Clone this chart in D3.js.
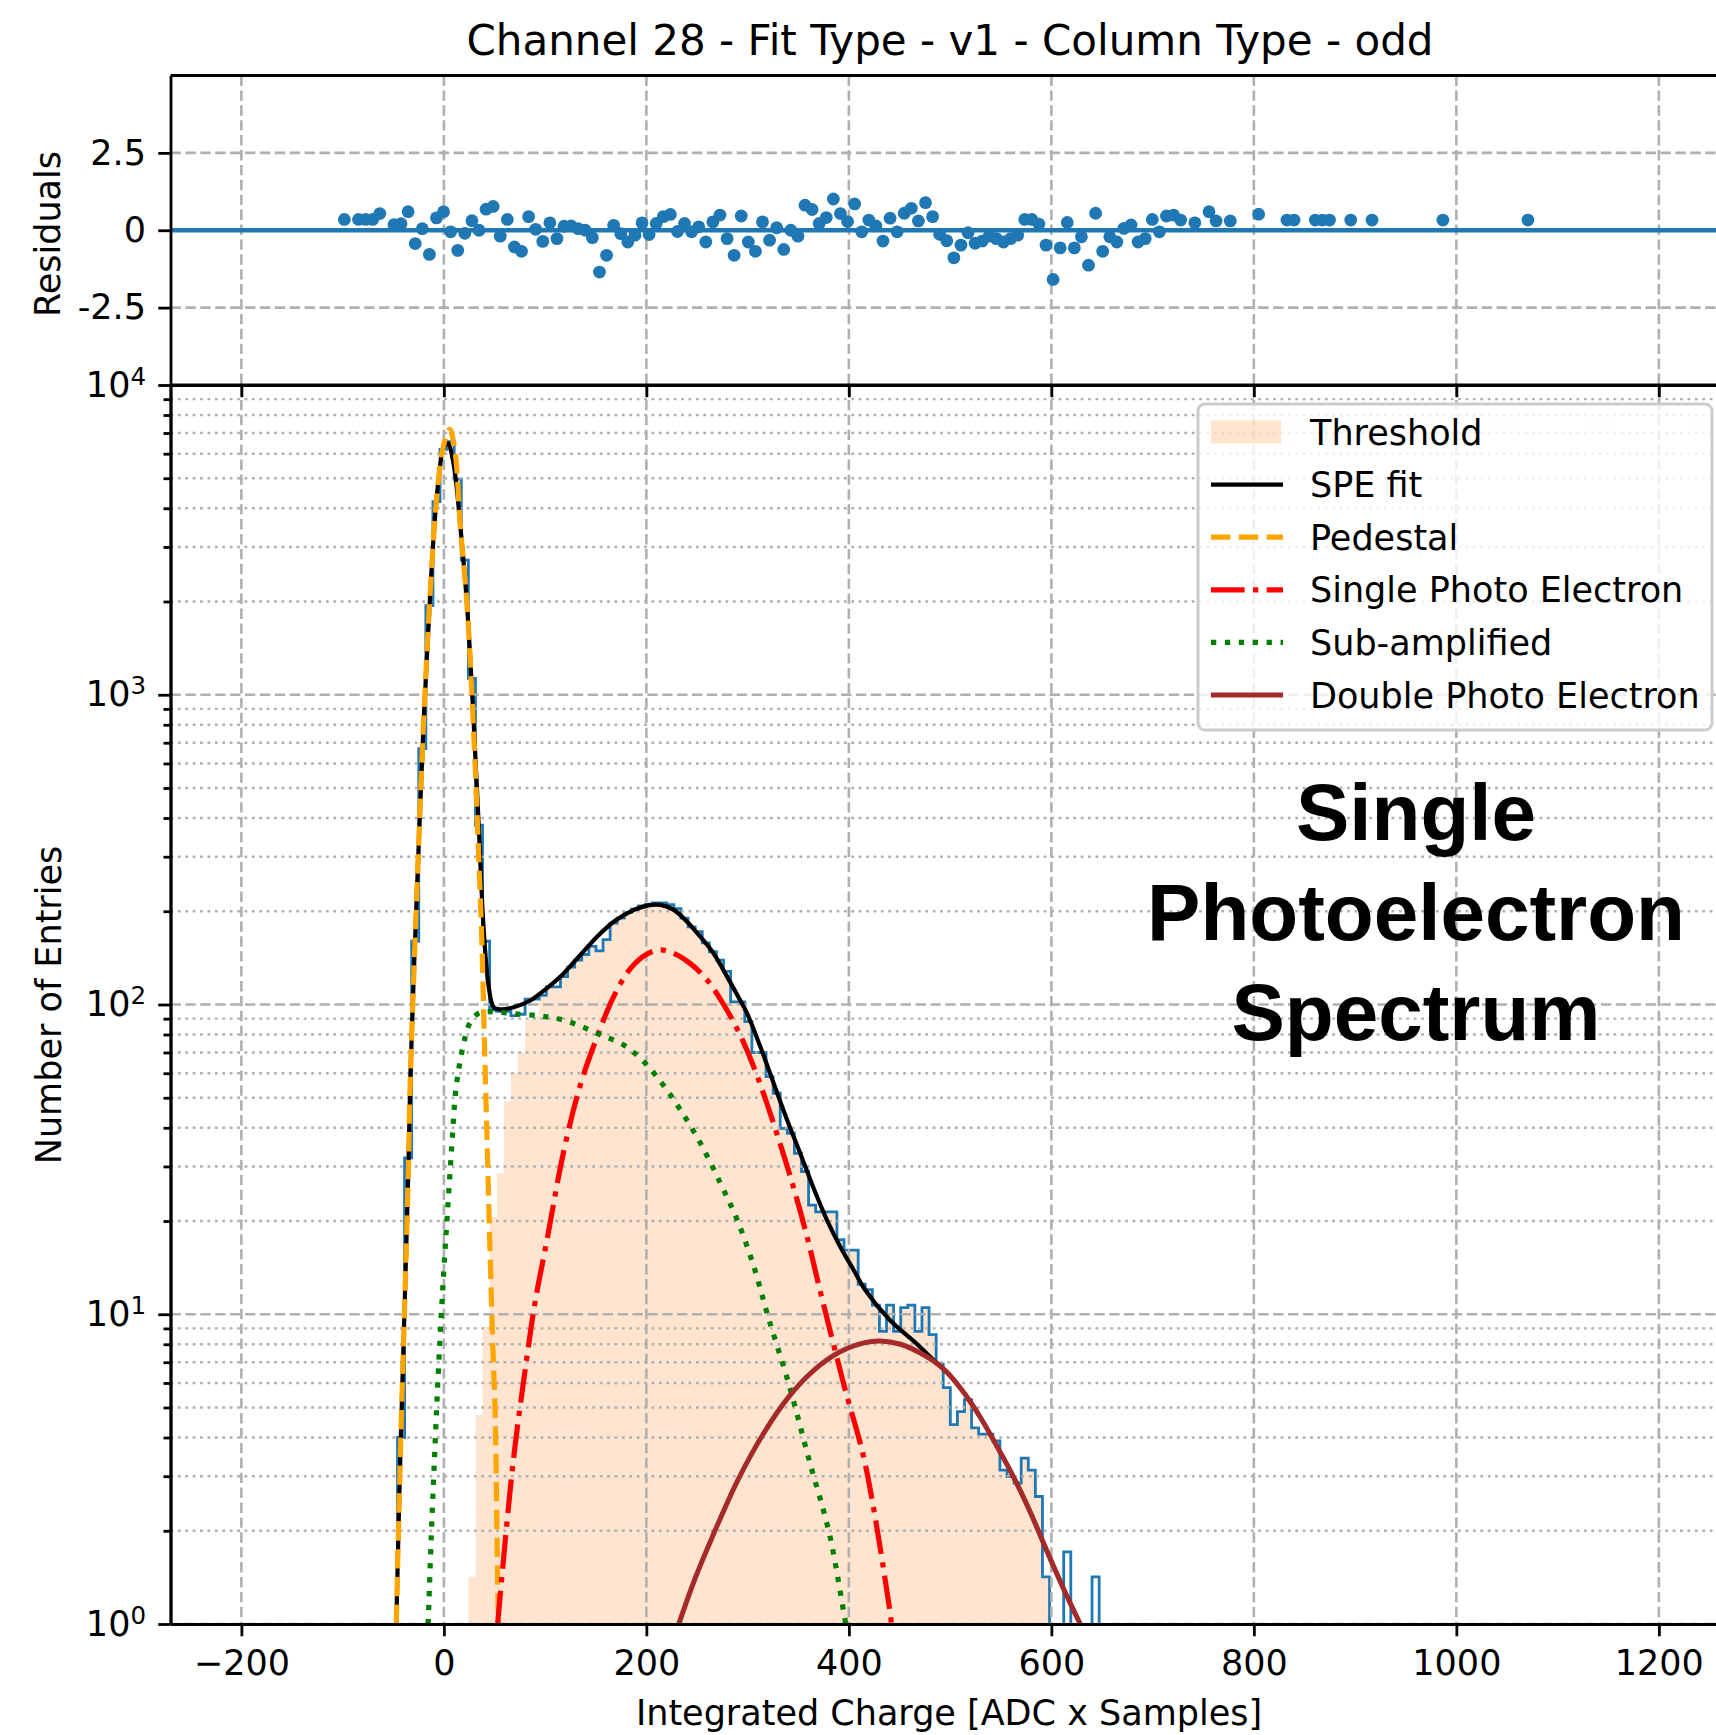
<!DOCTYPE html>
<html>
<head>
<meta charset="utf-8">
<script src="https://cdn.jsdelivr.net/npm/d3@7"></script>
<style>
  html, body { margin: 0; padding: 0; background: #fff; }
  svg { display: block; font-family: 'DejaVu Sans', sans-serif; }
</style>
</head>
<body>
<svg id="chart" width="1716" height="1735"></svg>
<script>
const xTicks = [-200, 0, 200, 400, 600, 800, 1000, 1200];
const residualTicks = [-2.5, 0, 2.5];
const residualTickLabels = ['-2.5', '0', '2.5'];
const countTicks = [1, 10, 100, 1000, 10000];
const countTickExponents = ['0', '1', '2', '3', '4'];
const countMinorTicks = [2, 3, 4, 5, 6, 7, 8, 9, 20, 30, 40, 50, 60, 70, 80, 90,
  200, 300, 400, 500, 600, 700, 800, 900, 2000, 3000, 4000, 5000, 6000, 7000, 8000, 9000];

// histogram: bin 0 starts at binStart, all bins binWidth wide
const binStart = -101.8;
const binWidth = 7;
const histCounts = [
  0, 0, 0, 0, 0, 0, 0, 0, 4, 32,
  160, 670, 1940, 4200, 6200, 6560, 4970, 2720, 1130, 379,
  160, 96, 95, 95, 92, 93, 104, 104, 107, 114,
  114, 123, 132, 139, 145, 154, 149, 162, 183, 190,
  198, 203, 208, 211, 213, 213, 210, 204, 190, 178,
  172, 158, 148, 139, 128, 102, 102, 88, 70, 70,
  58.5, 51.7, 39.8, 38.4, 33.1, 28.9, 22.5, 21.4, 21.4, 21.4,
  17.4, 16.1, 16.1, 12.5, 12.0, 10.7, 8.8, 10.7, 8.8, 10.5,
  10.7, 8.8, 10.5, 8.6, 6.9, 5.8, 4.4, 4.85, 5.3, 4.3,
  4.1, 4.1, 3.9, 3.14, 2.99, 2.85, 3.43, 3.14, 2.58, 1.42,
  0, 0, 1.71, 0, 0, 0, 1.42
];

const thresholdStartBin = 18;
const thresholdCounts = [
  1.42, 4.73, 9.1, 20.6, 28.5, 48.6, 60, 70, 89, 92,
  107, 114, 114, 123, 132, 139, 145, 154, 149, 162,
  183, 190, 198, 203, 208, 211, 213, 213, 210, 204,
  190, 178, 172, 158, 148, 139, 128, 102, 102, 88,
  70, 70, 58.5, 51.7, 39.8, 38.4, 33.1, 28.9, 22.5, 21.4,
  21.4, 21.4, 17.4, 16.1, 16.1, 12.5, 12.0, 10.7, 8.8, 10.7,
  8.8, 10.5, 10.7, 8.8, 10.5, 8.6, 6.9, 5.8, 4.4, 4.85,
  5.3, 4.3, 4.1, 4.1, 3.9, 3.14, 2.99, 2.85, 3.43, 3.14,
  2.58, 1.42
];

const residualX = [
  -98.3, -84.3, -77.3, -70.3, -63.3, -49.3, -42.3, -35.3, -28.3, -21.3,
  -14.3, -7.3, -0.3, 6.7, 13.7, 20.7, 27.7, 34.7, 41.7, 48.7,
  55.7, 62.7, 69.7, 76.7, 83.7, 90.7, 97.7, 104.7, 111.7, 118.7,
  125.7, 132.7, 139.7, 146.7, 153.7, 160.7, 167.7, 174.7, 181.7, 188.7,
  195.7, 202.7, 209.7, 216.7, 223.7, 230.7, 237.7, 244.7, 251.7, 258.7,
  265.7, 272.7, 279.7, 286.7, 293.7, 300.7, 307.7, 314.7, 321.7, 328.7,
  335.7, 342.7, 349.7, 356.7, 363.7, 370.7, 377.7, 384.7, 391.7, 398.7,
  405.7, 412.7, 419.7, 426.7, 433.7, 440.7, 447.7, 454.7, 461.7, 468.7,
  475.7, 482.7, 489.7, 496.7, 503.7, 510.7, 517.7, 524.7, 531.7, 538.7,
  545.7, 552.7, 559.7, 566.7, 573.7, 580.7, 587.7, 594.7, 601.7, 608.7,
  615.7, 622.7, 629.7, 636.7, 643.7, 650.7, 657.7, 664.7, 671.7, 678.7,
  685.7, 692.7, 699.7, 706.7, 713.7, 720.7, 727.7, 741.7, 755.7, 762.7,
  776.7, 804.7, 832.7, 839.7, 860.7, 867.7, 874.7, 895.7, 916.7, 986.7,
  1070.7
];
const residualY = [
  0.35, 0.35, 0.35, 0.35, 0.54, 0.18, 0.21, 0.6, -0.43, 0.05,
  -0.78, 0.4, 0.6, -0.05, -0.65, -0.1, 0.31, 0, 0.68, 0.77,
  -0.19, 0.35, -0.54, -0.68, 0.44, 0.03, -0.36, 0.24, -0.27, 0.13,
  0.14, 0.05, 0, -0.24, -1.35, -0.81, 0.16, -0.11, -0.38, -0.16,
  0.24, -0.14, 0.22, 0.44, 0.51, -0.04, 0.22, -0.05, 0.11, -0.38,
  0.27, 0.49, -0.27, -0.81, 0.46, -0.38, -0.68, 0.27, -0.32, 0.08,
  -0.62, 0, -0.19, 0.81, 0.67, 0.22, 0.41, 1.01, 0.54, 0.28,
  0.85, -0.05, 0.33, 0.14, -0.35, 0.39, -0.05, 0.55, 0.71, 0.3,
  0.89, 0.44, -0.13, -0.34, -0.89, -0.48, -0.08, -0.42, -0.35, -0.19,
  -0.27, -0.38, -0.27, -0.16, 0.35, 0.35, 0.2, -0.48, -1.59, -0.57,
  0.25, -0.57, -0.21, -1.13, 0.55, -0.68, -0.21, -0.38, 0.06, 0.17,
  -0.38, -0.27, 0.35, -0.05, 0.46, 0.49, 0.33, 0.24, 0.6, 0.3,
  0.3, 0.52, 0.33, 0.33, 0.33, 0.33, 0.33, 0.33, 0.33, 0.33,
  0.33
];

const speFit = [
  [-47, 1], [-43, 3.5], [-39, 10], [-35, 30], [-33, 60], [-26.5, 239], [-20, 819],
  [-13.3, 2194], [-6.7, 4460], [-0.2, 6270], [3.8, 6490], [9.7, 5535], [16.3, 3485],
  [22.9, 1941], [29.4, 819], [34.4, 379], [39.3, 175], [44.3, 114], [49.2, 98],
  [55.8, 96.5], [69, 98], [85.4, 103], [101.9, 113], [118.3, 126], [134.8, 144.5],
  [151.3, 165.5], [167.7, 185], [184.2, 199.5], [200.7, 208.5], [213.8, 209.6],
  [227, 202], [240.2, 185], [253.3, 165.5], [266.5, 146], [279.7, 123], [292.8, 103],
  [299.5, 93.6], [312.6, 73], [325.7, 55.7], [339, 42.4], [352.1, 33], [365.2, 25.5],
  [378.5, 20.1], [391.6, 16.5], [404.7, 13.9], [416, 12], [440.2, 9.6], [466.4, 8.06],
  [485.4, 7.03], [496.9, 6.5], [513.3, 5.6], [529.8, 4.65], [546.2, 3.75],
  [562.7, 2.98], [579.1, 2.3], [595.6, 1.72], [612, 1.3], [628.5, 1.0]
];
const pedestal = [
  [-47, 1], [-43, 3.5], [-39, 10], [-35, 30], [-33, 60], [-26.5, 239], [-20, 819],
  [-13.3, 2194], [-6.7, 4460], [-0.2, 6400], [5.8, 7190], [11, 6100], [16.3, 3485],
  [22.9, 1941], [29.4, 760], [34.4, 300], [37.5, 160], [40, 77], [42.8, 35],
  [45.6, 16], [48, 8.5], [50.7, 4.7], [53.1, 1.35], [54, 1]
];
const singlePE = [
  [53.1, 1], [68.3, 3.3], [83.5, 7.86], [90.4, 11.1], [101.9, 17.4], [118.3, 33.5],
  [134.8, 55], [151.3, 78.5], [167.7, 106], [184.2, 130.5], [200.7, 145.5],
  [213.8, 150], [227, 146.3], [243.5, 135.5], [260, 120], [276.3, 100], [292.8, 79.5],
  [309.3, 59], [325.7, 41.2], [342.2, 27.8], [358.7, 17.8], [371.9, 11.8], [384, 8.2],
  [395.8, 5.8], [416, 3.3], [441.2, 1.06], [442, 1]
];
const subAmplified = [
  [-15.5, 1], [-12.5, 1.9], [-9, 3.6], [-5.5, 6.5], [-2.3, 10.3], [0.3, 14.5],
  [3.5, 21.2], [7.8, 34.8], [12.2, 54.3], [18.9, 73.1], [25.5, 87], [34.3, 93.7],
  [42.7, 94.8], [52, 94.5], [69, 93.4], [95.3, 91.8], [115, 89.6], [134.8, 85.2],
  [154.6, 79.8], [177.6, 74], [197.3, 65.4], [215.5, 55.6], [233.6, 45.7],
  [253.3, 35.7], [273.1, 26.5], [289.6, 20.2], [306, 14.3], [320.3, 9.8],
  [340.4, 6], [360.6, 3.4], [380.7, 1.96], [395.8, 1.05], [397, 1]
];
const doublePE = [
  [232, 1], [248, 1.4], [264.8, 1.9], [290, 2.9], [315.3, 4.1], [340.4, 5.4],
  [365.6, 6.6], [390.8, 7.55], [416, 8.1], [431, 8.2], [451, 8.0], [470.6, 7.5],
  [485.4, 7.0], [496.9, 6.5], [513.3, 5.6], [529.8, 4.65], [546.2, 3.75],
  [562.7, 2.98], [579.1, 2.3], [595.6, 1.72], [612, 1.3], [628.5, 1.0]
];

const legendLabels = ['Threshold', 'SPE fit', 'Pedestal', 'Single Photo Electron',
  'Sub-amplified', 'Double Photo Electron'];
const bigLabel = ['Single', 'Photoelectron', 'Spectrum'];
const titleText = 'Channel 28 - Fit Type - v1 - Column Type - odd';

// ---- layout ----
const plotLeft = 170.5;
const plotRight = 1719.6;
const resTop = 75.5;
const resBottom = 385;
const mainTop = 385;
const mainBottom = 1624;
const fontSize = 35;
const gridColor = '#b0b0b0';
const gridDash = '10.4,4.5';
const blue = '#1f77b4';
const tickLen = 12.25;

const curveStyles = [
  { data: speFit, color: 'black', width: 4.2, dash: null },
  { data: pedestal, color: 'orange', width: 5.2, dash: '19.4,8.4' },
  { data: singlePE, color: 'red', width: 5.2, dash: '33.6,8.4,5.25,8.4' },
  { data: subAmplified, color: 'green', width: 5.2, dash: '5.25,8.66' },
  { data: doublePE, color: 'brown', width: 5, dash: null }
];

const x = d3.scaleLinear().domain([-270, 1260]).range([plotLeft, plotRight]);
const yRes = d3.scaleLinear().domain([-5, 5]).range([resBottom, resTop]);
const y = d3.scaleLog().domain([1, 10000]).range([mainBottom, mainTop]);
const yc = v => y(Math.max(v, 0.5));

const svg = d3.select('#chart');
const defs = svg.append('defs');
defs.append('clipPath').attr('id', 'clip-res').append('rect')
  .attr('x', plotLeft).attr('y', resTop)
  .attr('width', plotRight - plotLeft).attr('height', resBottom - resTop);
defs.append('clipPath').attr('id', 'clip-main').append('rect')
  .attr('x', plotLeft).attr('y', mainTop)
  .attr('width', plotRight - plotLeft).attr('height', mainBottom - mainTop);

// ---- residual panel ----
const res = svg.append('g').attr('clip-path', 'url(#clip-res)');

res.selectAll('.vgrid')
  .data(xTicks)
  .enter()
    .append('line')
    .attr('class', 'vgrid')
    .attr('x1', d => x(d)).attr('x2', d => x(d))
    .attr('y1', resTop).attr('y2', resBottom)
    .attr('stroke', gridColor).attr('stroke-width', 2.6)
    .attr('stroke-dasharray', gridDash);

res.selectAll('.hgrid')
  .data(residualTicks)
  .enter()
    .append('line')
    .attr('class', 'hgrid')
    .attr('x1', plotLeft).attr('x2', plotRight)
    .attr('y1', d => yRes(d)).attr('y2', d => yRes(d))
    .attr('stroke', gridColor).attr('stroke-width', 2.6)
    .attr('stroke-dasharray', gridDash);

res.append('line')
  .attr('x1', plotLeft).attr('x2', plotRight)
  .attr('y1', yRes(0)).attr('y2', yRes(0))
  .attr('stroke', blue).attr('stroke-width', 4.4);

res.selectAll('.dot')
  .data(residualX)
  .enter()
    .append('circle')
    .attr('class', 'dot')
    .attr('cx', d => x(d))
    .attr('cy', (d, i) => yRes(residualY[i]))
    .attr('r', 6.4)
    .attr('fill', blue);

// ---- main panel ----
const main = svg.append('g').attr('clip-path', 'url(#clip-main)');

const thresholdPoints = [];
thresholdCounts.forEach((c, i) => {
  const left = binStart + (thresholdStartBin + i) * binWidth;
  thresholdPoints.push([left, c], [left + binWidth, c]);
});
main.append('path')
  .datum(thresholdPoints)
  .attr('d', d3.area().x(d => x(d[0])).y0(yc(0)).y1(d => yc(d[1])))
  .attr('fill', '#ff7f0e')
  .attr('fill-opacity', 0.2);

const histPoints = [[binStart, 0]];
histCounts.forEach((c, i) => {
  const left = binStart + i * binWidth;
  histPoints.push([left, c], [left + binWidth, c]);
});
histPoints.push([binStart + histCounts.length * binWidth, 0]);
main.append('path')
  .datum(histPoints)
  .attr('d', d3.line().x(d => x(d[0])).y(d => yc(d[1])))
  .attr('fill', 'none')
  .attr('stroke', blue)
  .attr('stroke-width', 2.8);

main.selectAll('.minor')
  .data(countMinorTicks)
  .enter()
    .append('line')
    .attr('class', 'minor')
    .attr('x1', plotLeft).attr('x2', plotRight)
    .attr('y1', d => y(d)).attr('y2', d => y(d))
    .attr('stroke', gridColor).attr('stroke-width', 2.4)
    .attr('stroke-dasharray', '2.8,4.6');

main.selectAll('.major')
  .data(countTicks)
  .enter()
    .append('line')
    .attr('class', 'major')
    .attr('x1', plotLeft).attr('x2', plotRight)
    .attr('y1', d => y(d)).attr('y2', d => y(d))
    .attr('stroke', gridColor).attr('stroke-width', 2.6)
    .attr('stroke-dasharray', gridDash);

main.selectAll('.vgrid')
  .data(xTicks)
  .enter()
    .append('line')
    .attr('class', 'vgrid')
    .attr('x1', d => x(d)).attr('x2', d => x(d))
    .attr('y1', mainTop).attr('y2', mainBottom)
    .attr('stroke', gridColor).attr('stroke-width', 2.6)
    .attr('stroke-dasharray', gridDash);

const fitLine = d3.line()
  .curve(d3.curveCatmullRom.alpha(0.5))
  .x(d => x(d[0]))
  .y(d => y(d[1]));

curveStyles.forEach((s) => {
  main.append('path')
    .datum(s.data)
    .attr('d', fitLine)
    .attr('fill', 'none')
    .attr('stroke', s.color)
    .attr('stroke-width', s.width)
    .attr('stroke-dasharray', s.dash);
});

// ---- axes ----
const styleAxis = (g) => {
  g.attr('font-size', fontSize).attr('font-family', 'DejaVu Sans');
  g.select('.domain').attr('stroke-width', 2.8);
  g.selectAll('.tick line').attr('stroke-width', 2.8);
  g.selectAll('.tick text').attr('fill', '#000');
};

svg.append('g')
  .attr('transform', `translate(0,${resBottom})`)
  .call(d3.axisBottom(x).tickValues(xTicks).tickSize(tickLen).tickSizeOuter(0).tickFormat(() => ''))
  .call(styleAxis);

svg.append('g')
  .attr('transform', `translate(${plotLeft},0)`)
  .call(d3.axisLeft(yRes).tickValues(residualTicks).tickSize(tickLen).tickPadding(12.25)
    .tickSizeOuter(0).tickFormat((d, i) => residualTickLabels[i]))
  .call(styleAxis);

svg.append('g')
  .attr('transform', `translate(0,${mainBottom})`)
  .call(d3.axisBottom(x).tickValues(xTicks).tickSize(tickLen).tickPadding(13.9)
    .tickSizeOuter(0).tickFormat(d => (d < 0 ? `\u2212${-d}` : `${d}`)))
  .call(styleAxis);

svg.append('g')
  .attr('transform', `translate(${plotLeft},0)`)
  .call(d3.axisLeft(y).tickValues(countMinorTicks).tickSize(7).tickSizeOuter(0).tickFormat(() => ''))
  .call(styleAxis);

const countAxis = svg.append('g')
  .attr('transform', `translate(${plotLeft},0)`)
  .call(d3.axisLeft(y).tickValues(countTicks).tickSize(tickLen).tickPadding(12.25)
    .tickSizeOuter(0).tickFormat(() => ''))
  .call(styleAxis);

countAxis.selectAll('.tick text').each(function (d, i) {
  const t = d3.select(this);
  t.append('tspan').text('10');
  t.append('tspan').attr('font-size', fontSize * 0.7).attr('dy', -12.2).text(countTickExponents[i]);
});

[resTop, mainTop].forEach((ty) => {
  svg.append('line')
    .attr('x1', plotLeft).attr('x2', plotRight)
    .attr('y1', ty).attr('y2', ty)
    .attr('stroke', '#000').attr('stroke-width', 2.8);
});

// ---- labels ----
svg.append('text')
  .attr('x', 950).attr('y', 54.5)
  .attr('text-anchor', 'middle')
  .attr('font-size', 42)
  .text(titleText);

svg.append('text')
  .attr('x', 949).attr('y', 1725)
  .attr('text-anchor', 'middle')
  .attr('font-size', fontSize)
  .text('Integrated Charge [ADC x Samples]');

svg.append('text')
  .attr('transform', 'translate(60,234) rotate(-90)')
  .attr('text-anchor', 'middle')
  .attr('font-size', fontSize)
  .text('Residuals');

svg.append('text')
  .attr('transform', 'translate(61,1005) rotate(-90)')
  .attr('text-anchor', 'middle')
  .attr('font-size', fontSize)
  .text('Number of Entries');

// ---- legend ----
const legend = svg.append('g');
legend.append('rect')
  .attr('x', 1198).attr('y', 404)
  .attr('width', 514).attr('height', 326)
  .attr('rx', 7)
  .attr('fill', '#fff').attr('fill-opacity', 0.8)
  .attr('stroke', '#cccccc').attr('stroke-width', 3);

const rows = legend.selectAll('.entry')
  .data(legendLabels)
  .enter()
    .append('g')
    .attr('class', 'entry')
    .attr('transform', (d, i) => `translate(0,${432 + i * 52.6})`);

rows.append('text')
  .attr('x', 1310)
  .attr('y', 12.5)
  .attr('font-size', fontSize)
  .text(d => d);

rows.filter((d, i) => i === 0)
  .append('rect')
  .attr('x', 1211).attr('y', -11.5)
  .attr('width', 70).attr('height', 23)
  .attr('fill', '#ff7f0e').attr('fill-opacity', 0.2);

rows.filter((d, i) => i > 0)
  .append('line')
  .attr('x1', 1211).attr('x2', 1283)
  .attr('y1', 0).attr('y2', 0)
  .attr('stroke', (d, i) => curveStyles[i].color)
  .attr('stroke-width', (d, i) => curveStyles[i].width)
  .attr('stroke-dasharray', (d, i) => curveStyles[i].dash);

svg.selectAll('.big')
  .data(bigLabel)
  .enter()
    .append('text')
    .attr('class', 'big')
    .attr('x', 1416)
    .attr('y', (d, i) => 840 + i * 100)
    .attr('text-anchor', 'middle')
    .attr('font-family', 'Liberation Sans, Arial, sans-serif')
    .attr('font-weight', 'bold')
    .attr('font-size', 80)
    .text(d => d);
</script>
</body>
</html>
